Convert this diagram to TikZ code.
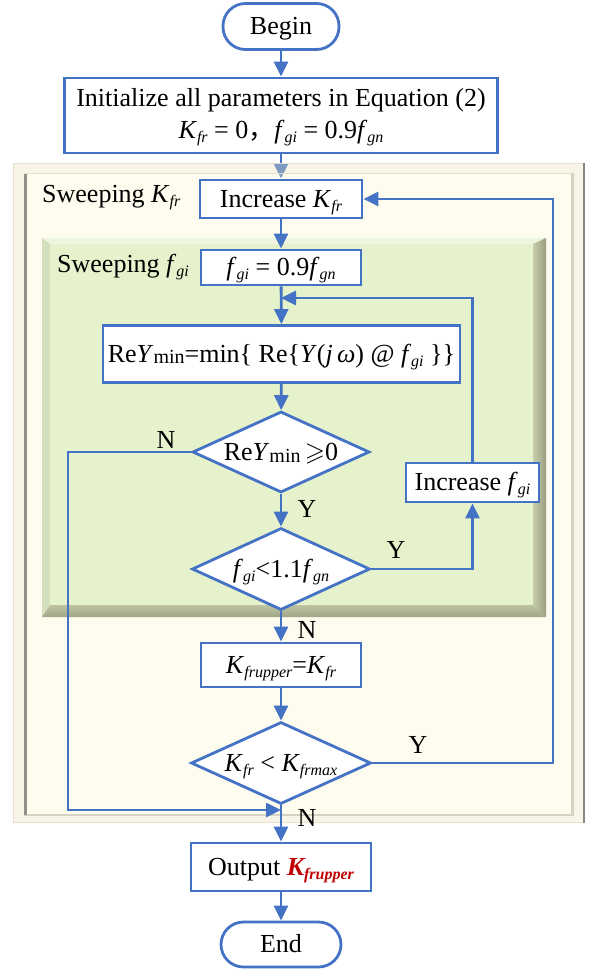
\documentclass[tikz,border=0pt]{standalone}
\usepackage{fontspec}
\setmainfont{Liberation Serif}
\newfontfamily\cjkfont{Noto Sans CJK SC}
\usepackage{amssymb}
\usetikzlibrary{arrows.meta,shapes.geometric,calc}

\definecolor{flowblue}{HTML}{4472C4}
\definecolor{outred}{HTML}{C00000}
\definecolor{bandcream}{RGB}{235,229,189}
\definecolor{facecream}{RGB}{252,249,209}
\definecolor{greenface}{HTML}{E5F2CC}
\definecolor{greentop}{HTML}{EEF6DF}
\definecolor{greenleft}{HTML}{D3E0BB}

% small lowered italic index, e.g. K_{fr}
\newcommand\lowsub[1]{\raisebox{-0.16em}{\fontsize{16}{16}\selectfont\itshape #1}}
\newcommand\ksub[1]{\textit{K}\lowsub{#1}}
\newcommand\fsub[1]{\textit{f}\lowsub{#1}}
\newcommand\minidx{\raisebox{-0.06em}{\fontsize{20}{20}\selectfont min}}
% diamond text that does not enlarge the shape
\newcommand\dtext[1]{\makebox[0pt]{\raisebox{-0.33em}[0pt][0pt]{#1}}}

\pgfdeclarelayer{under}
\pgfdeclarelayer{panels}
\pgfsetlayers{under,panels,main}

\tikzset{
  every node/.style={font=\fontsize{26}{30}\selectfont},
  procbox/.style={draw=flowblue, line width=2.8pt, fill=white, inner sep=0pt, align=center,
    text height=20pt, text depth=4pt},
  termbox/.style={procbox, rounded corners=22.5pt},
  decision/.style={diamond, draw=flowblue, line width=2.8pt, fill=white, inner sep=0pt},
  flow/.style={draw=flowblue, line width=2.8pt, -{Triangle[length=15pt,width=14pt]}},
  yn/.style={inner sep=0pt}
}

\begin{document}
\begin{tikzpicture}[x=1pt,y=-1pt]
\useasboundingbox (0,0) rectangle (595,974);

% ---- nodes ----
\node[termbox, minimum width=116, minimum height=46] (begin) at (281,26.5) {Begin};
\node[procbox, minimum width=433, minimum height=75, text height=52pt, text depth=7pt]
  (init) at (281,115.5)
  {Initialize all parameters in Equation (2)\\[1.5pt]
   \ksub{fr} = 0{\cjkfont ，}\fsub{gi} = 0.9\fsub{gn}};
\node[procbox, minimum width=162, minimum height=38] (incK) at (281,199) {Increase \ksub{fr}};
\node[procbox, minimum width=160, minimum height=35] (fgi0) at (281,267.5) {\fsub{gi} = 0.9\fsub{gn}};
\node[procbox, minimum width=357, minimum height=57] (rey) at (281.5,354)
  {Re\textit{Y}\minidx=min\{ Re\{\textit{Y}(\textit{j\,ω}) @ \fsub{gi} \}\}};
\node[decision, minimum width=177, minimum height=81] (d1) at (281,452)
  {\dtext{Re\textit{Y}\minidx\,$\geqslant$0}};
\node[decision, minimum width=178, minimum height=82] (d2) at (281,569)
  {\dtext{\fsub{gi}<1.1\fsub{gn}}};
\node[procbox, minimum width=133, minimum height=39] (incf) at (472.5,482.5) {Increase \fsub{gi}};
\node[procbox, minimum width=160, minimum height=44] (kup) at (281,665) {\ksub{frupper}=\ksub{fr}};
\node[decision, minimum width=180, minimum height=82] (d3) at (281,763)
  {\dtext{\ksub{fr} < \ksub{frmax}}};
\node[procbox, minimum width=180, minimum height=48] (out) at (281,867)
  {Output {\color{outred}\bfseries\itshape K\lowsub{frupper}}};
\node[termbox, minimum width=120, minimum height=45] (end) at (281,944.5) {End};

% ---- panel titles ----
\node[anchor=west, inner sep=0pt] (sweepK) at (42,198) {Sweeping \ksub{fr}};
\node[anchor=west, inner sep=0pt] (sweepF) at (57,267) {Sweeping \fsub{gi}};

% ---- branch labels ----
\node[yn] (n1) at (166,440) {N};
\node[yn] (y1) at (307,509) {Y};
\node[yn] (y2) at (396,550) {Y};
\node[yn] (n2) at (307,630) {N};
\node[yn] (y3) at (418,745) {Y};
\node[yn] (n3) at (307,818) {N};

% ---- bends ----
\coordinate (loopin) at (281,298);
\coordinate (joinN) at (281,810);
\coordinate (lcorner) at (68,810);
\coordinate (rcorner) at (553,763);

% ---- background and the arrow seen through the frame ----
\begin{pgfonlayer}{under}
  \fill[white] (0,0) rectangle (595,974);
  \draw[flow] (init) -- (incK);
\end{pgfonlayer}

% ---- panels ----
\begin{pgfonlayer}{panels}
  % outer frame
  \fill[bandcream, fill opacity=0.35, even odd rule]
    (13,163) rectangle (584,823) (24,173) rectangle (574,815);
  \fill[facecream, fill opacity=0.35] (24,173) rectangle (574,815);
  \draw[color={rgb,255:red,230;green,225;blue,208}, line width=1.5pt] (13.5,163.5) rectangle (583.5,822.5);
  \draw[color={rgb,255:red,228;green,224;blue,206}, line width=1.5pt] (24,173.5) -- (574,173.5);
  \draw[color={rgb,255:red,215;green,211;blue,195}, line width=2.2pt] (572.5,173) -- (572.5,815) -- (24,815);
  \draw[color={rgb,255:red,145;green,145;blue,140}, line width=3pt] (25.5,174) -- (25.5,815);
  \draw[color={rgb,255:red,135;green,135;blue,130}, line width=2.2pt] (584,163) -- (584,823);
  % inner bevelled green panel
  \fill[greentop] (42,238) -- (546,238) -- (533,244) -- (50,244) -- cycle;
  \fill[greenleft] (42,238) -- (50,244) -- (50,605) -- (42,617) -- cycle;
  \shade[left color={rgb,255:red,200;green,206;blue,172}, right color={rgb,255:red,152;green,157;blue,128}]
    (546,238) -- (546,617) -- (533,605) -- (533,244) -- cycle;
  \shade[top color={rgb,255:red,190;green,195;blue,160}, bottom color={rgb,255:red,160;green,165;blue,136}]
    (42,617) -- (546,617) -- (533,605) -- (50,605) -- cycle;
  \fill[greenface] (50,244) rectangle (533,605);
\end{pgfonlayer}

% ---- connectors ----
\draw[flow] (begin) -- (init);
\draw[flow] (incK) -- (fgi0);
\draw[flow] (fgi0) -- (rey);
\draw[flow] (rey) -- (d1);
\draw[flow] (d1) -- (d2);
\draw[flow] (d1.west) -| (lcorner) -- (joinN);
\draw[flow] (d2.east) -| (incf.south);
\draw[flow] (incf.north) |- (loopin);
\draw[flow] (d2) -- (kup);
\draw[flow] (kup) -- (d3);
\draw[flow] (d3.east) -- (rcorner) |- (incK.east);
\draw[flow] (d3) -- (out);
\draw[flow] (out) -- (end);
\end{tikzpicture}
\end{document}
